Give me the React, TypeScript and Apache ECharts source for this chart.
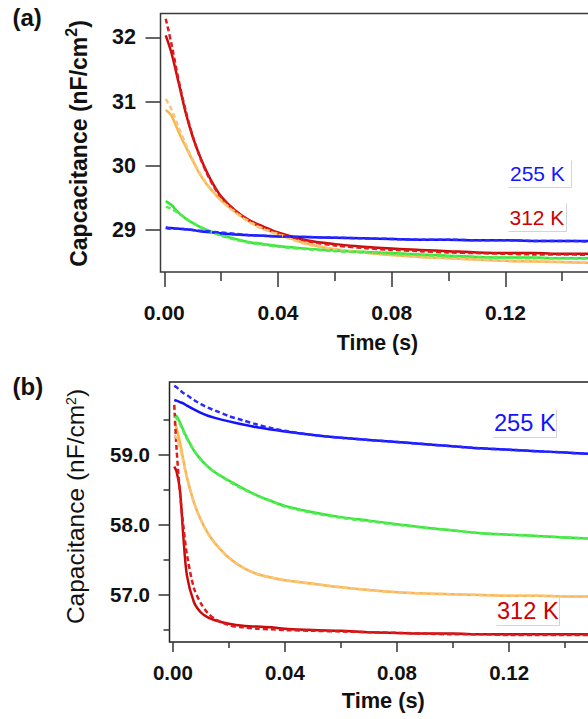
import React, { useEffect, useRef } from "react";
import * as echarts from "echarts";

// ---------- Panel (a) data ----------
const timeA = [0.0005, 0.0025, 0.005, 0.0075, 0.01, 0.0125, 0.015, 0.0175, 0.02, 0.025, 0.03, 0.035, 0.04, 0.05, 0.06, 0.07, 0.08, 0.09, 0.1, 0.11, 0.12, 0.13, 0.14, 0.15];
const redA = [32.03, 31.76, 31.3, 30.83, 30.45, 30.15, 29.9, 29.69, 29.52, 29.3, 29.15, 29.05, 28.96, 28.84, 28.78, 28.74, 28.71, 28.69, 28.67, 28.65, 28.64, 28.64, 28.63, 28.63];
const redFitA = [32.29, 31.9, 31.34, 30.86, 30.46, 30.14, 29.88, 29.67, 29.51, 29.3, 29.14, 29.03, 28.95, 28.83, 28.76, 28.72, 28.69, 28.67, 28.65, 28.64, 28.63, 28.62, 28.62, 28.61];
const orangeA = [30.87, 30.78, 30.53, 30.3, 30.08, 29.87, 29.71, 29.58, 29.46, 29.28, 29.13, 29.02, 28.94, 28.79, 28.7, 28.65, 28.61, 28.58, 28.56, 28.54, 28.52, 28.51, 28.5, 28.49];
const orangeFitA = [31.04, 30.88, 30.6, 30.34, 30.09, 29.88, 29.71, 29.58, 29.46, 29.27, 29.12, 29.01, 28.93, 28.78, 28.7, 28.65, 28.61, 28.58, 28.56, 28.54, 28.52, 28.51, 28.5, 28.49];
const greenA = [29.45, 29.39, 29.27, 29.18, 29.11, 29.05, 29.0, 28.96, 28.92, 28.86, 28.81, 28.78, 28.75, 28.71, 28.68, 28.66, 28.64, 28.62, 28.6, 28.58, 28.57, 28.57, 28.56, 28.56];
const greenFitA = [29.36, 29.33, 29.26, 29.18, 29.11, 29.05, 29.0, 28.95, 28.91, 28.85, 28.8, 28.77, 28.74, 28.7, 28.67, 28.65, 28.63, 28.61, 28.59, 28.58, 28.57, 28.56, 28.56, 28.55];
const blueA = [29.04, 29.03, 29.02, 29.01, 29.0, 28.98, 28.97, 28.96, 28.95, 28.93, 28.92, 28.91, 28.9, 28.89, 28.88, 28.87, 28.86, 28.85, 28.85, 28.84, 28.84, 28.83, 28.83, 28.83];
const blueFitA = [29.03, 29.02, 29.02, 29.01, 29.0, 28.99, 28.98, 28.97, 28.96, 28.94, 28.92, 28.91, 28.9, 28.89, 28.88, 28.87, 28.86, 28.85, 28.85, 28.84, 28.84, 28.83, 28.83, 28.82];

// ---------- Panel (b) data ----------
const timeB = [0.0005, 0.0013, 0.0025, 0.0037, 0.005, 0.0075, 0.01, 0.0125, 0.015, 0.02, 0.025, 0.03, 0.035, 0.04, 0.05, 0.06, 0.07, 0.08, 0.09, 0.1, 0.11, 0.12, 0.13, 0.14, 0.15];
const blueB = [59.78, 59.77, 59.75, 59.73, 59.7, 59.645, 59.595, 59.555, 59.525, 59.475, 59.43, 59.39, 59.36, 59.33, 59.28, 59.24, 59.21, 59.18, 59.15, 59.12, 59.09, 59.07, 59.05, 59.03, 59.01];
const blueFitB = [59.98, 59.96, 59.92, 59.88, 59.85, 59.78, 59.72, 59.67, 59.63, 59.55, 59.49, 59.43, 59.38, 59.34, 59.28, 59.24, 59.21, 59.18, 59.15, 59.12, 59.09, 59.07, 59.05, 59.03, 59.01];
const greenB = [59.57, 59.55, 59.46, 59.35, 59.24, 59.06, 58.93, 58.83, 58.75, 58.63, 58.52, 58.42, 58.34, 58.27, 58.18, 58.11, 58.06, 58.01, 57.96, 57.92, 57.88, 57.86, 57.84, 57.82, 57.8];
const greenFitB = [59.54, 59.52, 59.44, 59.34, 59.23, 59.06, 58.93, 58.83, 58.75, 58.62, 58.51, 58.42, 58.34, 58.26, 58.17, 58.1, 58.05, 58.0, 57.96, 57.92, 57.88, 57.86, 57.84, 57.82, 57.8];
const orangeB = [59.45, 59.38, 59.18, 58.93, 58.68, 58.32, 58.07, 57.88, 57.74, 57.53, 57.39, 57.3, 57.25, 57.21, 57.16, 57.11, 57.07, 57.04, 57.02, 57.01, 57.0, 56.99, 56.99, 56.98, 56.98];
const orangeFitB = [59.28, 59.24, 59.1, 58.9, 58.67, 58.32, 58.07, 57.88, 57.74, 57.53, 57.39, 57.3, 57.25, 57.21, 57.16, 57.11, 57.07, 57.04, 57.02, 57.01, 57.0, 56.99, 56.99, 56.98, 56.98];
const redB = [58.83, 58.76, 58.5, 57.85, 57.28, 56.9, 56.75, 56.68, 56.64, 56.59, 56.56, 56.55, 56.54, 56.52, 56.5, 56.49, 56.47, 56.46, 56.45, 56.45, 56.44, 56.44, 56.44, 56.44, 56.44];
const redFitB = [59.71, 59.09, 58.47, 58.0, 57.58, 57.1, 56.88, 56.74, 56.66, 56.57, 56.54, 56.52, 56.51, 56.5, 56.49, 56.48, 56.47, 56.46, 56.45, 56.44, 56.44, 56.43, 56.43, 56.43, 56.43];

// ---------- Ticks ----------
const xMajorTicks = [0, 0.04, 0.08, 0.12];
const xMinorTicks = [0.02, 0.06, 0.1, 0.14];
const yTicksA = [29, 30, 31, 32];
const yTicksB = [57, 58, 59];
const yMinorTicksB = [56.5, 57.5, 58.5, 59.5];

const FONT = "'Liberation Sans', Arial, Helvetica, sans-serif";
const COL = {
  blue: "#1212ff",
  blueFit: "#2a2aff",
  green: "#33e633",
  greenFit: "#55ea55",
  orange: "#fbb545",
  orangeFit: "#f8c47e",
  red: "#c80a0a",
  redFit: "#e01a1a",
};

const pts = (t: number[], v: number[]) => t.map((x, i) => [x, v[i]]);

function lineSeries(name: string, t: number[], v: number[], color: string, dashed: boolean, idx: number) {
  return {
    name,
    type: "line",
    xAxisIndex: idx === 0 ? 0 : 2,
    yAxisIndex: idx === 0 ? 0 : 1,
    data: pts(t, v),
    showSymbol: false,
    smooth: 0.3,
    lineStyle: { color, width: 2.5, type: dashed ? [5, 3] : "solid", cap: "butt", join: "round" },
    silent: true,
    z: dashed ? 3 : 2,
  };
}

const tickStyle = { color: "#333", width: 1.5 };

function xMajor(grid: number, min: number, max: number, len: number, margin: number, fs: number) {
  return {
    type: "value", gridIndex: grid, min, max, position: "bottom",
    axisLine: { show: false, onZero: false }, splitLine: { show: false },
    axisTick: { show: true, inside: false, length: len, customValues: xMajorTicks, lineStyle: tickStyle },
    axisLabel: { show: true, customValues: xMajorTicks, margin, fontSize: fs, fontWeight: "bold", fontFamily: FONT, color: "#111", formatter: (v: number) => v.toFixed(2) },
  };
}
function xMinor(grid: number, min: number, max: number, len: number) {
  return {
    type: "value", gridIndex: grid, min, max, position: "bottom",
    axisLine: { show: false, onZero: false }, splitLine: { show: false },
    axisTick: { show: true, inside: false, length: len, customValues: xMinorTicks, lineStyle: tickStyle },
    axisLabel: { show: false },
  };
}

export default function App() {
  const ref = useRef<HTMLDivElement>(null);
  useEffect(() => {
    if (!ref.current) return;
    const chart = echarts.init(ref.current, null, { renderer: "svg" });
    const option: any = {
      animation: false,
      backgroundColor: "#fff",
      grid: [
        { left: 160.5, top: 13.5, width: 460, height: 258.5, show: true, borderColor: "#3a3a3a", borderWidth: 1.5, backgroundColor: "transparent" },
        { left: 169.5, top: 382, width: 460, height: 260, show: true, borderColor: "#222", borderWidth: 1.5, backgroundColor: "transparent" },
      ],
      xAxis: [
        xMajor(0, -0.00134, 0.1605, 15, 30, 21),
        xMinor(0, -0.00134, 0.1605, 9),
        xMajor(1, -0.00121, 0.16296, 10, 20, 20.5),
        xMinor(1, -0.00121, 0.16296, 6),
      ],
      yAxis: [
        {
          type: "value", gridIndex: 0, min: 28.346, max: 32.371, position: "left",
          axisLine: { show: false, onZero: false }, splitLine: { show: false },
          axisTick: { show: true, inside: false, length: 15, customValues: yTicksA, lineStyle: tickStyle },
          axisLabel: { customValues: yTicksA, margin: 24.5, fontSize: 21.5, fontWeight: "bold", fontFamily: FONT, color: "#111", formatter: (v: number) => String(Math.round(v)) },
        },
        {
          type: "value", gridIndex: 1, min: 56.33, max: 60.036, position: "left",
          axisLine: { show: false, onZero: false }, splitLine: { show: false },
          axisTick: { show: true, inside: false, length: 11, customValues: yTicksB, lineStyle: tickStyle },
          axisLabel: { customValues: yTicksB, margin: 19.5, fontSize: 20.5, fontWeight: "bold", fontFamily: FONT, color: "#111", formatter: (v: number) => v.toFixed(1) },
        },
        {
          type: "value", gridIndex: 1, min: 56.33, max: 60.036, position: "left", offset: 0,
          axisLine: { show: false, onZero: false }, splitLine: { show: false },
          axisTick: { show: true, inside: false, length: 6, customValues: yMinorTicksB, lineStyle: tickStyle },
          axisLabel: { show: false },
        },
      ],
      series: [
        lineSeries("312 K", timeA, redA, COL.red, false, 0),
        lineSeries("orange", timeA, orangeA, COL.orange, false, 0),
        lineSeries("green", timeA, greenA, COL.green, false, 0),
        lineSeries("255 K", timeA, blueA, COL.blue, false, 0),
        lineSeries("312 K fit", timeA, redFitA, COL.redFit, true, 0),
        lineSeries("orange fit", timeA, orangeFitA, COL.orangeFit, true, 0),
        lineSeries("green fit", timeA, greenFitA, COL.greenFit, true, 0),
        lineSeries("255 K fit", timeA, blueFitA, COL.blueFit, true, 0),
        lineSeries("312 K b", timeB, redB, COL.red, false, 1),
        lineSeries("orange b", timeB, orangeB, COL.orange, false, 1),
        lineSeries("green b", timeB, greenB, COL.green, false, 1),
        lineSeries("255 K b", timeB, blueB, COL.blue, false, 1),
        lineSeries("312 K fit b", timeB, redFitB, COL.redFit, true, 1),
        lineSeries("orange fit b", timeB, orangeFitB, COL.orangeFit, true, 1),
        lineSeries("green fit b", timeB, greenFitB, COL.greenFit, true, 1),
        lineSeries("255 K fit b", timeB, blueFitB, COL.blueFit, true, 1),
      ],
      graphic: [
        { type: "text", x: 12.5, y: 17, style: { text: "(a)", font: `bold 24px ${FONT}`, fill: "#111", align: "left", verticalAlign: "middle" } },
        { type: "text", x: 12.5, y: 386.5, style: { text: "(b)", font: `bold 24px ${FONT}`, fill: "#111", align: "left", verticalAlign: "middle" } },
        { type: "text", x: 377.5, y: 332.5, style: { text: "Time (s)", font: `bold 21.3px ${FONT}`, fill: "#111", align: "center", verticalAlign: "top" } },
        { type: "text", x: 383.3, y: 689.3, style: { text: "Time (s)", font: `bold 21.8px ${FONT}`, fill: "#111", align: "center", verticalAlign: "top" } },
        {
          type: "text", x: 79.2, y: 143.5, rotation: Math.PI / 2,
          style: {
            text: "{m|Capcacitance (nF/cm}{s|2}{m|)}", align: "center", verticalAlign: "middle", fill: "#111",
            rich: {
              m: { fontSize: 23, fontWeight: "bold", fontFamily: FONT, lineHeight: 31, fill: "#111" },
              s: { fontSize: 16, fontWeight: "bold", fontFamily: FONT, lineHeight: 15, verticalAlign: "top", fill: "#111" },
            },
          },
        },
        {
          type: "text", x: 75, y: 506.5, rotation: Math.PI / 2,
          style: {
            text: "{m|Capacitance (nF/cm}{s|2}{m|)}", align: "center", verticalAlign: "middle", fill: "#111",
            rich: {
              m: { fontSize: 24.5, fontWeight: "normal", fontFamily: FONT, lineHeight: 22, fill: "#111" },
              s: { fontSize: 14, fontWeight: "normal", fontFamily: FONT, lineHeight: 13, verticalAlign: "top", fill: "#111" },
            },
          },
        },
        // temperature labels (a)
        { type: "polyline", shape: { points: [[508.5, 187.5], [571.5, 187.5], [571.5, 160.5]] }, style: { stroke: "#d4d4d4", lineWidth: 1, fill: null } },
        { type: "text", x: 510, y: 173, style: { text: "255 K", font: `21px ${FONT}`, fill: "#1414ff", align: "left", verticalAlign: "middle" } },
        { type: "polyline", shape: { points: [[508.5, 231.5], [566.5, 231.5], [566.5, 203.5]] }, style: { stroke: "#d4d4d4", lineWidth: 1, fill: null } },
        { type: "text", x: 509.5, y: 217, style: { text: "312 K", font: `21px ${FONT}`, fill: "#cc0000", align: "left", verticalAlign: "middle" } },
        // temperature labels (b)
        { type: "polyline", shape: { points: [[493.5, 437.5], [556.5, 437.5], [556.5, 409.5]] }, style: { stroke: "#d4d4d4", lineWidth: 1, fill: null } },
        { type: "text", x: 494, y: 423, style: { text: "255 K", font: `23.6px ${FONT}`, fill: "#1414ff", align: "left", verticalAlign: "middle" } },
        { type: "polyline", shape: { points: [[496.5, 625.5], [559.5, 625.5], [559.5, 597.5]] }, style: { stroke: "#d4d4d4", lineWidth: 1, fill: null } },
        { type: "text", x: 497, y: 611, style: { text: "312 K", font: `23.6px ${FONT}`, fill: "#cc0000", align: "left", verticalAlign: "middle" } },
      ],
    };
    chart.setOption(option);
    return () => chart.dispose();
  }, []);
  return (
    <div style={{ position: "fixed", left: 0, top: 0, width: 588, height: 719, overflow: "hidden", background: "#fff" }}>
      <div ref={ref} style={{ width: 640, height: 719 }} />
    </div>
  );
}
